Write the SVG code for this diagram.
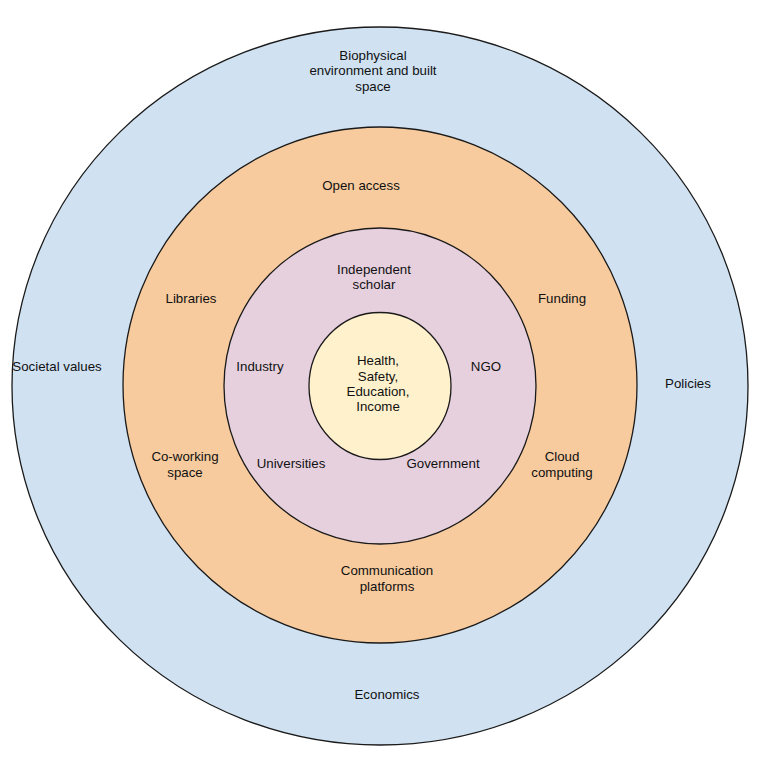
<svg xmlns="http://www.w3.org/2000/svg" width="768" height="762" viewBox="0 0 768 762">
<style>
.ring{stroke:#1a1a1a;stroke-width:1.3}
text{font-family:"Liberation Sans",Arial,sans-serif;font-size:13.3px;fill:#111;text-anchor:middle;dominant-baseline:central}
</style>
<rect width="768" height="762" fill="#fff"/>
<g id="outer">
<ellipse class="ring" cx="380" cy="386" rx="368" ry="359" fill="#d0e2f2"/>
</g>
<g id="middle">
<ellipse class="ring" cx="380" cy="385" rx="257" ry="258" fill="#f7cb9e"/>
</g>
<g id="inner">
<ellipse class="ring" cx="380" cy="386" rx="156" ry="158" fill="#e6d0de"/>
</g>
<g id="core">
<ellipse class="ring" cx="380" cy="386" rx="71" ry="73.5" fill="#fff1cc"/>
</g>
<g id="labels-outer">
<text x="373" y="55">Biophysical</text>
<text x="373" y="70.5">environment and built</text>
<text x="373" y="86">space</text>
<text x="57" y="366">Societal values</text>
<text x="688" y="383.5">Policies</text>
<text x="387" y="694">Economics</text>
</g>
<g id="labels-middle">
<text x="361" y="185">Open access</text>
<text x="191" y="298">Libraries</text>
<text x="562" y="298">Funding</text>
<text x="185" y="456.5">Co-working</text>
<text x="185" y="472">space</text>
<text x="562" y="456.5">Cloud</text>
<text x="562" y="472">computing</text>
<text x="387" y="570.5">Communication</text>
<text x="387" y="586">platforms</text>
</g>
<g id="labels-inner">
<text x="374" y="269">Independent</text>
<text x="374" y="284.5">scholar</text>
<text x="260" y="366.5">Industry</text>
<text x="486" y="366.5">NGO</text>
<text x="291" y="463.5">Universities</text>
<text x="443" y="463.5">Government</text>
</g>
<g id="labels-core">
<text x="378" y="360.5">Health,</text>
<text x="378" y="376">Safety,</text>
<text x="378" y="391">Education,</text>
<text x="378" y="406.5">Income</text>
</g>
</svg>
